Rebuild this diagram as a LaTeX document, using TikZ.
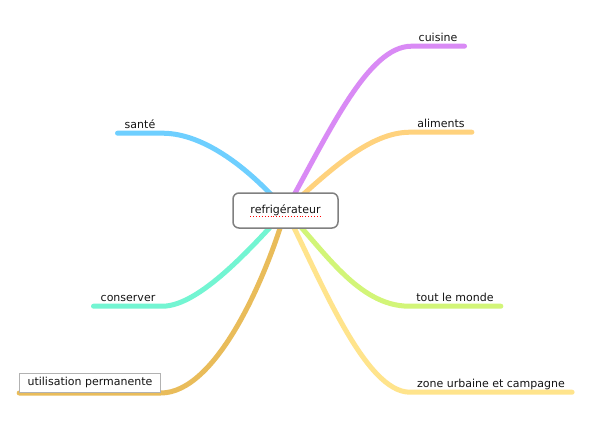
\documentclass[tikz,border=0pt]{standalone}
\usepackage{fontspec}
\setmainfont{DejaVu Sans}
\usetikzlibrary{backgrounds}
\definecolor{cPurple}{RGB}{217,138,245}
\definecolor{cAliments}{RGB}{255,210,125}
\definecolor{cSante}{RGB}{110,207,255}
\definecolor{cConserver}{RGB}{115,245,210}
\definecolor{cUtil}{RGB}{233,188,90}
\definecolor{cTout}{RGB}{210,245,120}
\definecolor{cZone}{RGB}{255,228,140}
\definecolor{cBorder}{RGB}{128,128,128}
\definecolor{cText}{RGB}{20,20,20}
\tikzset{
  lab/.style={font=\fontsize{11}{13}\selectfont, text=cText, inner xsep=7pt, inner ysep=5pt, text depth=0pt, anchor=base},
  branch/.style={line width=5pt, line cap=round},
  centerbox/.style={draw=cBorder, line width=1.5pt, fill=white, rounded corners=6pt, minimum width=105pt, minimum height=35pt, inner sep=0pt},
  utilbox/.style={draw=black!30, line width=0.8pt, fill=white, font=\fontsize{11}{13}\selectfont, text=cText, inner xsep=8pt, inner ysep=0pt, minimum height=19pt, text height=8pt, text depth=2.5pt, anchor=south}
}
\begin{document}
\begin{tikzpicture}[x=1pt,y=-1pt]
\useasboundingbox (0,0) rectangle (594,439);
% central node
\node[centerbox] (c) at (285.5,210.5) {};
\node[font=\fontsize{11}{13}\selectfont, text=cText, inner sep=0pt] (ct) at (c.center) {refrigérateur};
\draw[red, dotted, line width=0.9pt] ([yshift=-2.3pt]ct.base west) -- ([yshift=-2.3pt]ct.base east);
% labels
\node[lab] (l1) at (438,41) {cuisine};
\node[lab] (l2) at (441,127) {aliments};
\node[lab] (l3) at (140,128) {santé};
\node[lab] (l4) at (128,301) {conserver};
\node[lab] (l6) at (455,301) {tout le monde};
\node[lab] (l7) at (491,387) {zone urbaine et campagne};
\node[utilbox] (l5) at (90,393) {utilisation permanente};
% branches
\begin{pgfonlayer}{background}
\fill[white] (0,0) rectangle (594,439);
\draw[branch, cPurple] (c.center) .. controls +(45,-81) and +(-43,0) .. (l1.south west) -- (l1.south east);
\draw[branch, cAliments] (c.center) .. controls +(45,-41) and +(-40,0) .. (l2.south west) -- (l2.south east);
\draw[branch, cSante] (c.center) .. controls +(-35,-41) and +(42,0) .. (l3.south east) -- (l3.south west);
\draw[branch, cConserver] (c.center) .. controls +(-33,36) and +(37,0) .. (l4.south east) -- (l4.south west);
\draw[branch, cUtil] (c.center) .. controls +(-20,69) and +(55,0) .. (l5.south east) -- (l5.south west);
\draw[branch, cTout] (c.center) .. controls +(37,37) and +(-52,0) .. (l6.south west) -- (l6.south east);
\draw[branch, cZone] (c.center) .. controls +(35,69) and +(-45,0) .. (l7.south west) -- (l7.south east);
\end{pgfonlayer}
\end{tikzpicture}
\end{document}
